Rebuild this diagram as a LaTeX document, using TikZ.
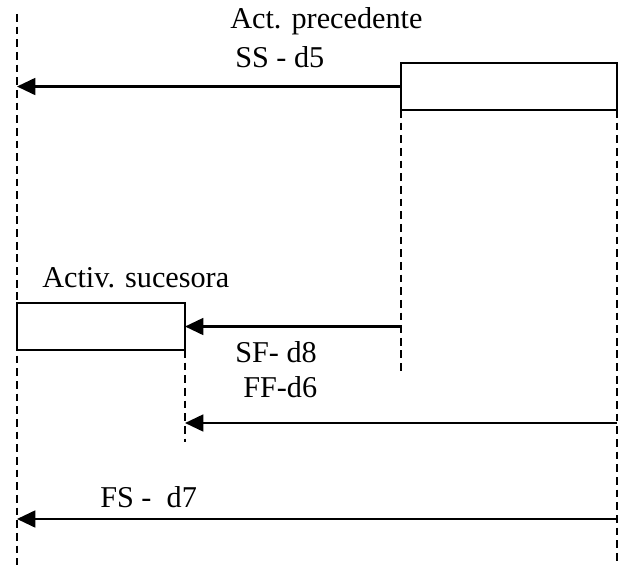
\documentclass[tikz,border=0pt]{standalone}
\usepackage{fontspec}
\setmainfont{Liberation Serif}
\usetikzlibrary{arrows.meta,positioning}

\begin{document}
\begin{tikzpicture}[
  x=0.025cm,y=-0.025cm,
  act/.style={draw,line width=1.5pt,minimum height=1.175cm,
              inner sep=0pt,outer sep=0pt,anchor=north west},
  life/.style={line width=1.3pt,dash pattern=on 5.5pt off 3.5pt},
  dep/.style={line width=1.5pt,-{Triangle[length=13pt,width=12pt]}},
  lbl/.style={font=\fontsize{21.5}{24}\selectfont,inner sep=0pt,anchor=base west},
]
\useasboundingbox (0,0) rectangle (622,565);

%% Activity boxes
\node[act,minimum width=5.4cm] (prec) at (401,63) {};
\node[act,minimum width=4.2cm] (suc) at (17,303) {};

%% Lifelines (dashed)
\coordinate (lifetop) at (17,14);
\coordinate (lifebot) at (17,565);
\coordinate (precend) at (401,375);
\coordinate (sucend) at (185,442);
\draw[life] (lifetop) -- (lifebot);
\draw[life] (prec.south west) -- (prec.south west |- precend);
\draw[life] (prec.south east) -- (prec.south east |- lifebot);
\draw[life] (suc.south east) -- (suc.south east |- sucend);

%% Dependencies
\coordinate (ssend) at (prec.west -| lifetop);
\coordinate (sfstart) at (prec.south west |- suc.east);
\coordinate (ffstart) at (prec.south east |- 0,423);
\coordinate (ffend) at (ffstart -| suc.east);
\coordinate (fsstart) at (prec.south east |- 0,519);
\coordinate (fsend) at (fsstart -| lifetop);
\draw[dep] (prec.west) -- (ssend);
\draw[dep] (sfstart) -- (suc.east);
\draw[dep] (ffstart) -- (ffend);
\draw[dep] (fsstart) -- (fsend);

%% Labels
\node[lbl] (precname) at (230,29) {Act. precedente};
\node[lbl] (sslbl) at (235,67) {SS - d5};
\node[lbl] (sucname) at (42,287) {Activ. sucesora};
\node[lbl] (sflbl) at (235,362) {SF- d8};
\node[lbl] (fflbl) at (243,397) {FF-d6};
\node[lbl] (fslbl) at (100,507) {FS -\ \ d7};

\end{tikzpicture}
\end{document}
